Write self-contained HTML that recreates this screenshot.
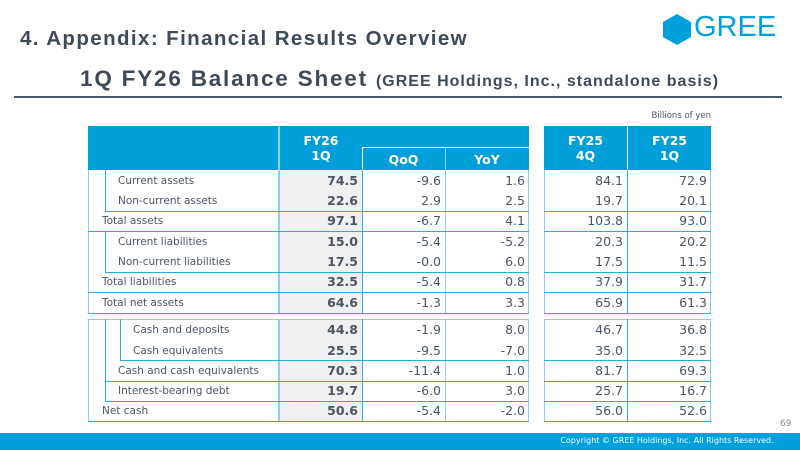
<!DOCTYPE html>
<html><head><meta charset="utf-8"><style>
*{margin:0;padding:0;box-sizing:border-box}
body{width:800px;height:450px;position:relative;background:#fff;overflow:hidden;font-family:"DejaVu Sans","Liberation Sans",sans-serif;color:#3d4a5a}
.a{position:absolute}
.h{background:#009fda;color:#fff;font-weight:bold;font-size:12.5px;text-align:center;line-height:15px}
.l{position:absolute;background:#2fa6dc}
.lt{position:absolute;background:#86d0ef}
.t{position:absolute;font-size:10.5px;line-height:20px;color:#4a5565}
.n{position:absolute;font-size:12.5px;line-height:20px;text-align:right;color:#4a5565}
.b{font-weight:bold}
</style></head><body>
<div class="a" style="left:20px;top:27px;font-family:'Liberation Sans',sans-serif;font-weight:bold;font-size:20.5px;letter-spacing:1.4px;color:#3d4a5a;white-space:nowrap">4. Appendix: Financial Results Overview</div>
<div class="a" style="left:80px;top:66px;font-family:'Liberation Sans',sans-serif;font-weight:bold;font-size:22.5px;letter-spacing:1.8px;color:#3d4a5a;white-space:nowrap">1Q FY26 Balance Sheet <span style="font-size:16px;letter-spacing:1px">(GREE Holdings, Inc., standalone basis)</span></div>
<div class="a" style="left:14px;top:96px;width:768px;height:2px;background:#4a5a6a"></div>
<svg class="a" style="left:662px;top:13px" width="30" height="33"><polygon points="15,1 29,9 29,24 15,32 1,24 1,9" fill="#00a0dc"/></svg>
<div class="a" style="left:694px;top:11px;font-family:'Liberation Sans',sans-serif;font-size:29px;color:#00a0dc">GREE</div>
<div class="a" style="left:640px;top:111px;width:71px;text-align:right;font-size:8.5px;color:#4a5565">Billions of yen</div>

<div class="a h" style="left:88px;top:126px;width:441px;height:44px"></div>
<div class="a" style="left:278px;top:126px;width:2px;height:44px;background:#8fd3f0"></div>
<div class="a h" style="left:280px;top:133px;width:82px;background:none">FY26<br>1Q</div>
<div class="a" style="left:362px;top:147px;width:167px;height:1px;background:#fff"></div>
<div class="a" style="left:362px;top:147px;width:1px;height:23px;background:#fff"></div>
<div class="a" style="left:445px;top:147px;width:1px;height:23px;background:#8fd3f0"></div>
<div class="a h" style="left:362px;top:152px;width:83px;background:none">QoQ</div>
<div class="a h" style="left:445px;top:152px;width:84px;background:none">YoY</div>
<div class="a h" style="left:544px;top:126px;width:167px;height:44px"></div>
<div class="a" style="left:627px;top:126px;width:1px;height:44px;background:#fff"></div>
<div class="a h" style="left:544px;top:133px;width:83px;background:none">FY25<br>4Q</div>
<div class="a h" style="left:628px;top:133px;width:83px;background:none">FY25<br>1Q</div>

<div class="a" style="left:279px;top:170px;width:83px;height:143px;background:#f0f0f0"></div>
<div class="a" style="left:279px;top:319px;width:83px;height:103px;background:#f0f0f0"></div>

<div class="lt" style="left:88px;top:170px;width:1px;height:143px"></div>
<div class="lt" style="left:528px;top:170px;width:1px;height:143px"></div>
<div class="lt" style="left:278px;top:170px;width:2px;height:143px"></div>
<div class="l" style="left:362px;top:170px;width:1px;height:143px"></div>
<div class="lt" style="left:445px;top:170px;width:1px;height:143px"></div>
<div class="l" style="left:105px;top:170px;width:1px;height:41px"></div>
<div class="l" style="left:105px;top:211px;width:424px;height:1px"></div>
<div class="l" style="left:88px;top:231px;width:441px;height:1px"></div>
<div class="l" style="left:105px;top:231px;width:1px;height:41px"></div>
<div class="l" style="left:105px;top:272px;width:424px;height:1px"></div>
<div class="l" style="left:88px;top:292px;width:441px;height:1px"></div>
<div class="l" style="left:88px;top:313px;width:441px;height:1px"></div>
<div class="lt" style="left:544px;top:170px;width:1px;height:143px"></div>
<div class="lt" style="left:710px;top:170px;width:1px;height:143px"></div>
<div class="l" style="left:627px;top:170px;width:1px;height:143px"></div>
<div class="l" style="left:544px;top:211px;width:167px;height:1px"></div>
<div class="l" style="left:544px;top:231px;width:167px;height:1px"></div>
<div class="l" style="left:544px;top:272px;width:167px;height:1px"></div>
<div class="l" style="left:544px;top:292px;width:167px;height:1px"></div>
<div class="l" style="left:544px;top:313px;width:167px;height:1px"></div>

<div class="lt" style="left:88px;top:319px;width:441px;height:1px"></div>
<div class="lt" style="left:88px;top:319px;width:1px;height:103px"></div>
<div class="lt" style="left:528px;top:319px;width:1px;height:103px"></div>
<div class="lt" style="left:278px;top:319px;width:2px;height:103px"></div>
<div class="l" style="left:362px;top:319px;width:1px;height:103px"></div>
<div class="lt" style="left:445px;top:319px;width:1px;height:103px"></div>
<div class="l" style="left:105px;top:319px;width:1px;height:82px"></div>
<div class="l" style="left:120px;top:319px;width:1px;height:41px"></div>
<div class="l" style="left:120px;top:360px;width:409px;height:1px"></div>
<div class="l" style="left:105px;top:381px;width:424px;height:1px"></div>
<div class="l" style="left:105px;top:401px;width:424px;height:1px"></div>
<div class="l" style="left:88px;top:421px;width:441px;height:1px"></div>
<div class="lt" style="left:544px;top:319px;width:167px;height:1px"></div>
<div class="lt" style="left:544px;top:319px;width:1px;height:103px"></div>
<div class="lt" style="left:710px;top:319px;width:1px;height:103px"></div>
<div class="l" style="left:627px;top:319px;width:1px;height:103px"></div>
<div class="l" style="left:544px;top:360px;width:167px;height:1px"></div>
<div class="l" style="left:544px;top:381px;width:167px;height:1px"></div>
<div class="l" style="left:544px;top:401px;width:167px;height:1px"></div>
<div class="l" style="left:544px;top:421px;width:167px;height:1px"></div>

<div class="t" style="left:118px;top:171px">Current assets</div>
<div class="t" style="left:118px;top:191px">Non-current assets</div>
<div class="t" style="left:102px;top:211px">Total assets</div>
<div class="t" style="left:118px;top:232px">Current liabilities</div>
<div class="t" style="left:118px;top:252px">Non-current liabilities</div>
<div class="t" style="left:102px;top:272px">Total liabilities</div>
<div class="t" style="left:102px;top:293px">Total net assets</div>
<div class="t" style="left:133px;top:320px">Cash and deposits</div>
<div class="t" style="left:133px;top:341px">Cash equivalents</div>
<div class="t" style="left:118px;top:361px">Cash and cash equivalents</div>
<div class="t" style="left:118px;top:381px">Interest-bearing debt</div>
<div class="t" style="left:102px;top:401px">Net cash</div>

<div class="n b" style="left:280px;top:171px;width:78px">74.5</div><div class="n" style="left:363px;top:171px;width:78px">-9.6</div><div class="n" style="left:446px;top:171px;width:79px">1.6</div><div class="n" style="left:545px;top:171px;width:78px">84.1</div><div class="n" style="left:628px;top:171px;width:79px">72.9</div>
<div class="n b" style="left:280px;top:191px;width:78px">22.6</div><div class="n" style="left:363px;top:191px;width:78px">2.9</div><div class="n" style="left:446px;top:191px;width:79px">2.5</div><div class="n" style="left:545px;top:191px;width:78px">19.7</div><div class="n" style="left:628px;top:191px;width:79px">20.1</div>
<div class="n b" style="left:280px;top:211px;width:78px">97.1</div><div class="n" style="left:363px;top:211px;width:78px">-6.7</div><div class="n" style="left:446px;top:211px;width:79px">4.1</div><div class="n" style="left:545px;top:211px;width:78px">103.8</div><div class="n" style="left:628px;top:211px;width:79px">93.0</div>
<div class="n b" style="left:280px;top:232px;width:78px">15.0</div><div class="n" style="left:363px;top:232px;width:78px">-5.4</div><div class="n" style="left:446px;top:232px;width:79px">-5.2</div><div class="n" style="left:545px;top:232px;width:78px">20.3</div><div class="n" style="left:628px;top:232px;width:79px">20.2</div>
<div class="n b" style="left:280px;top:252px;width:78px">17.5</div><div class="n" style="left:363px;top:252px;width:78px">-0.0</div><div class="n" style="left:446px;top:252px;width:79px">6.0</div><div class="n" style="left:545px;top:252px;width:78px">17.5</div><div class="n" style="left:628px;top:252px;width:79px">11.5</div>
<div class="n b" style="left:280px;top:272px;width:78px">32.5</div><div class="n" style="left:363px;top:272px;width:78px">-5.4</div><div class="n" style="left:446px;top:272px;width:79px">0.8</div><div class="n" style="left:545px;top:272px;width:78px">37.9</div><div class="n" style="left:628px;top:272px;width:79px">31.7</div>
<div class="n b" style="left:280px;top:293px;width:78px">64.6</div><div class="n" style="left:363px;top:293px;width:78px">-1.3</div><div class="n" style="left:446px;top:293px;width:79px">3.3</div><div class="n" style="left:545px;top:293px;width:78px">65.9</div><div class="n" style="left:628px;top:293px;width:79px">61.3</div>
<div class="n b" style="left:280px;top:320px;width:78px">44.8</div><div class="n" style="left:363px;top:320px;width:78px">-1.9</div><div class="n" style="left:446px;top:320px;width:79px">8.0</div><div class="n" style="left:545px;top:320px;width:78px">46.7</div><div class="n" style="left:628px;top:320px;width:79px">36.8</div>
<div class="n b" style="left:280px;top:341px;width:78px">25.5</div><div class="n" style="left:363px;top:341px;width:78px">-9.5</div><div class="n" style="left:446px;top:341px;width:79px">-7.0</div><div class="n" style="left:545px;top:341px;width:78px">35.0</div><div class="n" style="left:628px;top:341px;width:79px">32.5</div>
<div class="n b" style="left:280px;top:361px;width:78px">70.3</div><div class="n" style="left:363px;top:361px;width:78px">-11.4</div><div class="n" style="left:446px;top:361px;width:79px">1.0</div><div class="n" style="left:545px;top:361px;width:78px">81.7</div><div class="n" style="left:628px;top:361px;width:79px">69.3</div>
<div class="n b" style="left:280px;top:381px;width:78px">19.7</div><div class="n" style="left:363px;top:381px;width:78px">-6.0</div><div class="n" style="left:446px;top:381px;width:79px">3.0</div><div class="n" style="left:545px;top:381px;width:78px">25.7</div><div class="n" style="left:628px;top:381px;width:79px">16.7</div>
<div class="n b" style="left:280px;top:401px;width:78px">50.6</div><div class="n" style="left:363px;top:401px;width:78px">-5.4</div><div class="n" style="left:446px;top:401px;width:79px">-2.0</div><div class="n" style="left:545px;top:401px;width:78px">56.0</div><div class="n" style="left:628px;top:401px;width:79px">52.6</div>

<div class="a" style="left:780px;top:419px;font-size:9px;color:#888">69</div>
<div class="a" style="left:0;top:433px;width:800px;height:17px;background:#00a0dc"></div>
<div class="a" style="left:542px;top:436px;width:250px;text-align:center;font-size:8px;color:#fff">Copyright © GREE Holdings, Inc. All Rights Reserved.</div>
</body></html>
